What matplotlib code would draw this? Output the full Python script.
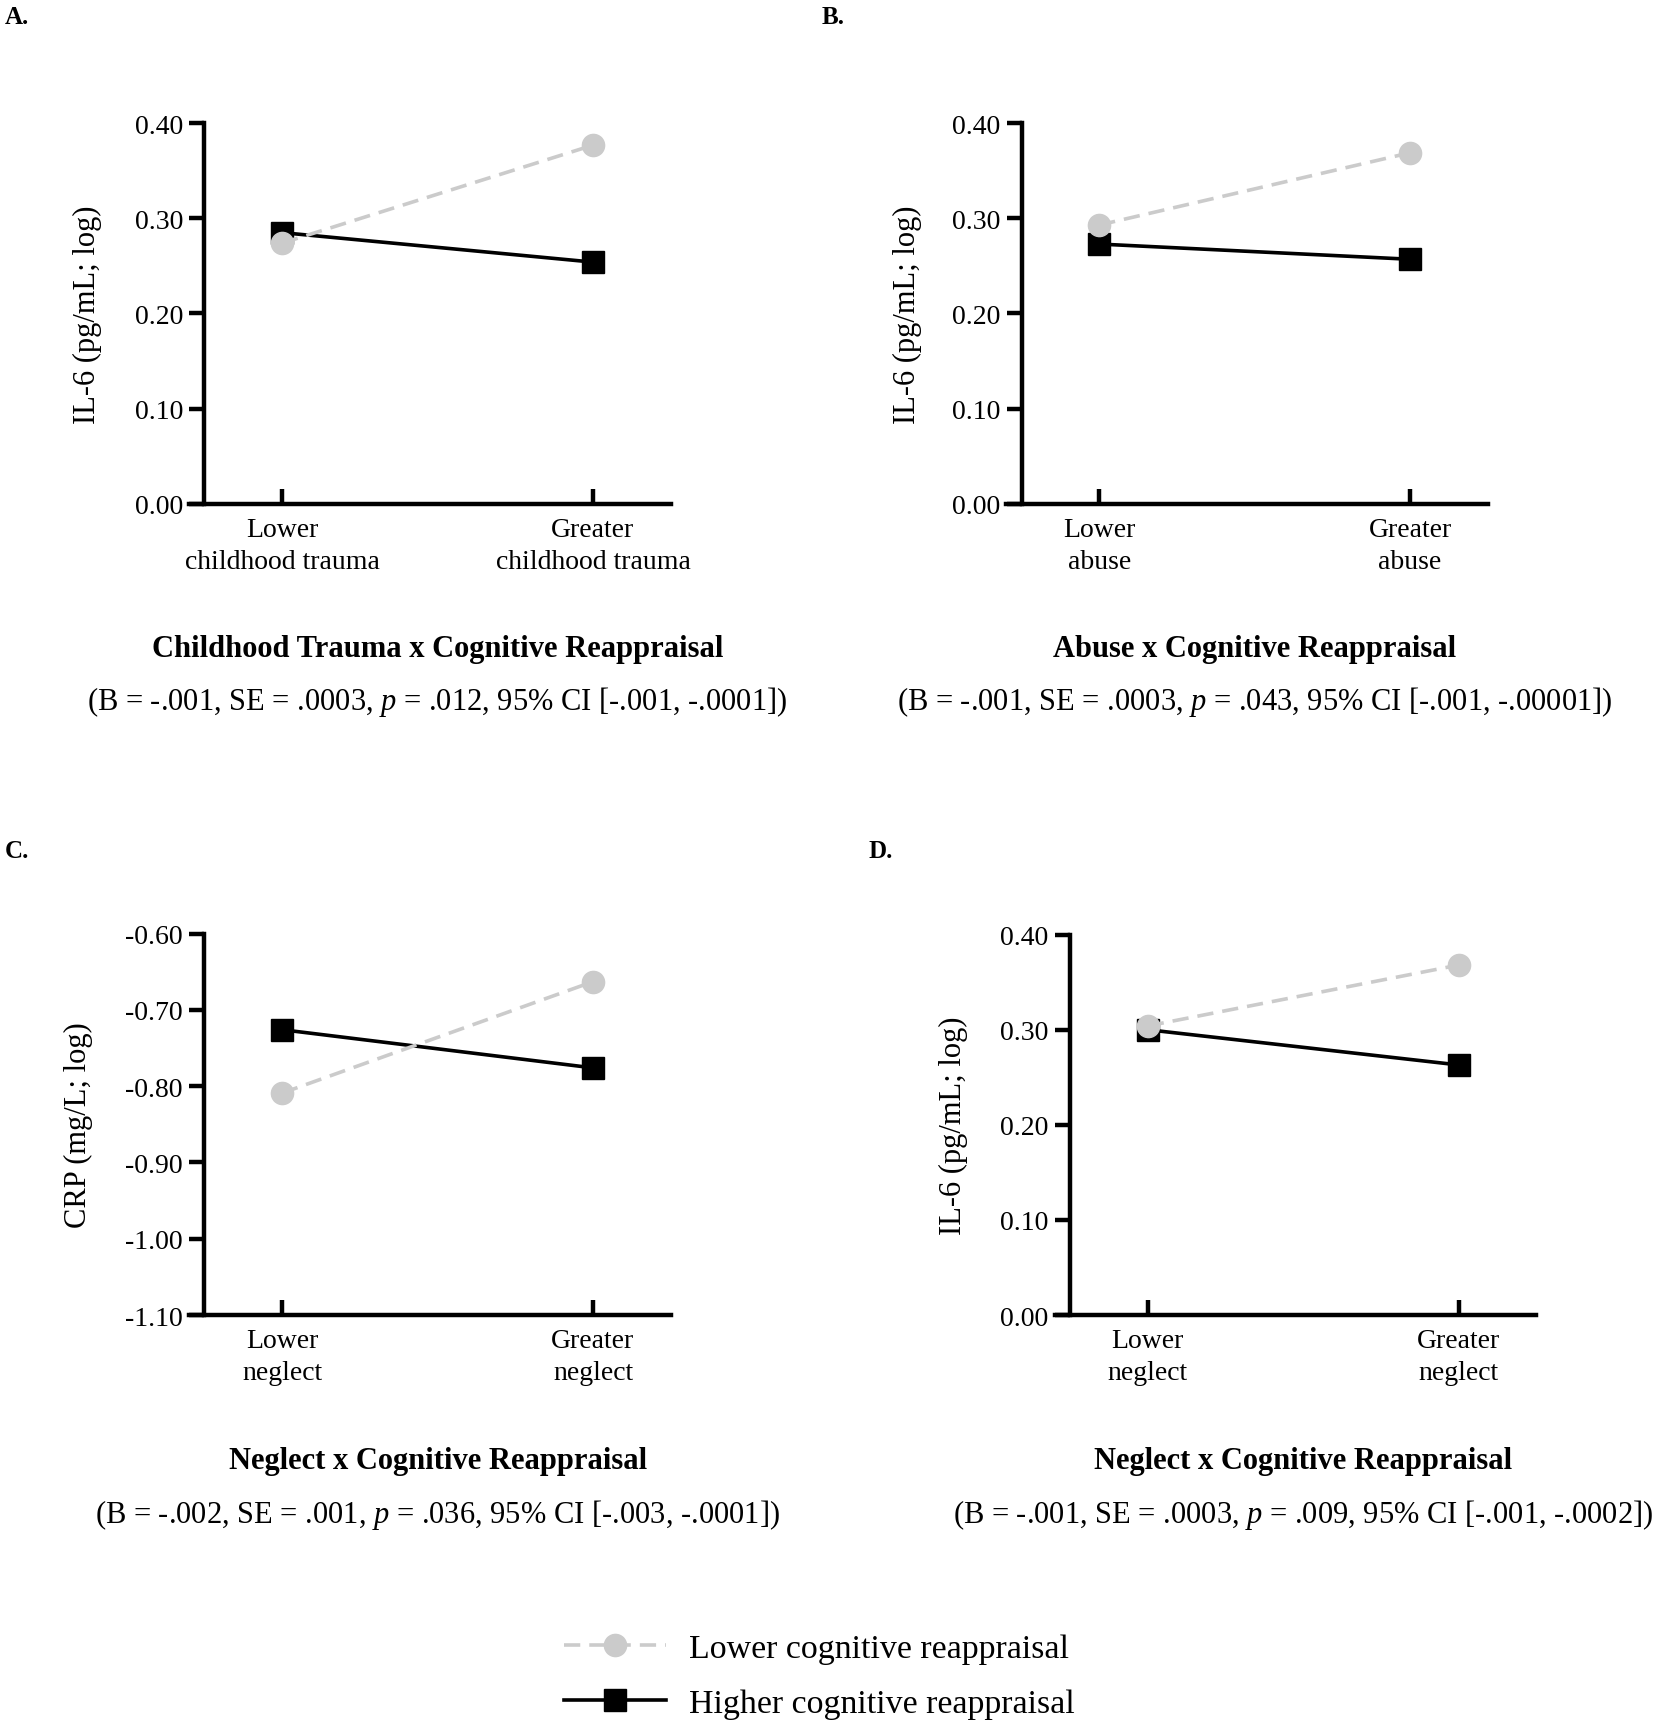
import matplotlib
matplotlib.use("Agg")
import matplotlib.pyplot as plt
from matplotlib.ticker import FormatStrFormatter
from matplotlib.lines import Line2D

plt.rcParams['font.family'] = ['Liberation Serif', 'DejaVu Serif']
plt.rcParams['mathtext.fontset'] = 'custom'
plt.rcParams['mathtext.rm'] = 'Liberation Serif'
plt.rcParams['mathtext.it'] = 'Liberation Serif:italic'
plt.rcParams['axes.unicode_minus'] = False

# Data
x_pos = [0, 1]
series_labels = ['Lower cognitive reappraisal', 'Higher cognitive reappraisal']

a_lower = [0.274, 0.377]
a_higher = [0.285, 0.254]
b_lower = [0.293, 0.369]
b_higher = [0.273, 0.257]
c_lower = [-0.809, -0.663]
c_higher = [-0.726, -0.776]
d_lower = [0.304, 0.368]
d_higher = [0.300, 0.263]

a_xticks = ['Lower\nchildhood trauma', 'Greater\nchildhood trauma']
b_xticks = ['Lower\nabuse', 'Greater\nabuse']
c_xticks = ['Lower\nneglect', 'Greater\nneglect']
d_xticks = ['Lower\nneglect', 'Greater\nneglect']

il6_label = 'IL-6 (pg/mL; log)'
crp_label = 'CRP (mg/L; log)'
il6_ticks = [0.0, 0.1, 0.2, 0.3, 0.4]
crp_ticks = [-1.1, -1.0, -0.9, -0.8, -0.7, -0.6]

titles = ['Childhood Trauma x Cognitive Reappraisal',
          'Abuse x Cognitive Reappraisal',
          'Neglect x Cognitive Reappraisal',
          'Neglect x Cognitive Reappraisal']
stats = ['(B = -.001, SE = .0003, $p$ = .012, 95% CI [-.001, -.0001])',
         '(B = -.001, SE = .0003, $p$ = .043, 95% CI [-.001, -.00001])',
         '(B = -.002, SE = .001, $p$ = .036, 95% CI [-.003, -.0001])',
         '(B = -.001, SE = .0003, $p$ = .009, 95% CI [-.001, -.0002])']
letters = ['A.', 'B.', 'C.', 'D.']

W, H = 1656, 1724
fig = plt.figure(figsize=(W / 100, H / 100), dpi=100)

gray = '#cbcbcb'


def panel(rect, lower, higher, xticks, ylabel, yticks, title, stat, letter,
          letter_xy, ylab_off, title_y, stat_y):
    ax = fig.add_axes(rect)
    ax.plot(x_pos, higher, color='black', lw=2.6, marker='s', ms=16,
            clip_on=False, zorder=3, label=series_labels[1])
    ax.plot(x_pos, lower, color=gray, lw=2.6, ls=(0, (4.5, 2.5)), marker='o',
            ms=16, clip_on=False, zorder=4, label=series_labels[0])
    ax.set_xlim(-0.30, 1.25)
    ax.set_ylim(yticks[0], yticks[-1])
    ax.set_yticks(yticks)
    ax.yaxis.set_major_formatter(FormatStrFormatter('%.2f'))
    ax.set_xticks(x_pos)
    ax.set_xticklabels(xticks, linespacing=1.37)
    for s in ['top', 'right']:
        ax.spines[s].set_visible(False)
    ax.spines['left'].set_position(('data', -0.25))
    for s in ['left', 'bottom']:
        ax.spines[s].set_linewidth(3.2)
        ax.spines[s].set_capstyle('projecting')
    ax.tick_params(axis='y', direction='out', length=11, width=3.2, pad=4.5,
                   labelsize=20)
    ax.tick_params(axis='x', direction='in', length=11, width=3.2, pad=9.5,
                   labelsize=20)
    ax.patch.set_visible(False)

    x0 = rect[0] * W
    xw = rect[2] * W
    yc = (rect[1] + rect[3] / 2)
    fig.text((x0 + ylab_off) / W, yc, ylabel, rotation=90, ha='center',
             va='center', fontsize=22)
    cx = (x0 + (0.5 + 0.30) / 1.55 * xw) / W
    fig.text(cx, 1 - title_y / H, title, ha='center', va='center',
             fontsize=22, fontweight='bold')
    fig.text(cx, 1 - stat_y / H, stat, ha='center', va='center', fontsize=22)
    fig.text(letter_xy[0] / W, 1 - letter_xy[1] / H, letter, ha='left',
             va='center', fontsize=18, fontweight='bold')
    return ax


panel([0.1141, 0.7073, 0.2909, 0.2206], a_lower, a_higher, a_xticks,
      il6_label, il6_ticks, titles[0], stats[0], letters[0],
      (5, 17), -101, 649.5, 702)
panel([0.6075, 0.7073, 0.2909, 0.2206], b_lower, b_higher, b_xticks,
      il6_label, il6_ticks, titles[1], stats[1], letters[1],
      (822, 17), -99, 649.5, 702)
panel([0.1141, 0.2366, 0.2909, 0.2213], c_lower, c_higher, c_xticks,
      crp_label, crp_ticks, titles[2], stats[2], letters[2],
      (5, 852), -110, 1461.5, 1515)
panel([0.6368, 0.2366, 0.2909, 0.2207], d_lower, d_higher, d_xticks,
      il6_label, il6_ticks, titles[3], stats[3], letters[3],
      (869, 852), -101, 1461.5, 1515)

handles = [Line2D([], [], color=gray, lw=2.6, ls=(0, (4.5, 2.5)), marker='o', ms=16),
           Line2D([], [], color='black', lw=2.6, marker='s', ms=16)]
fig.legend(handles, series_labels, loc='upper left',
           bbox_to_anchor=(564 / W, 1 - 1634 / H), frameon=False,
           fontsize=24.4, handlelength=3.0, handletextpad=0.7,
           labelspacing=0.72, borderpad=0, borderaxespad=0)

fig.savefig('out.png', dpi=100, facecolor='white')
